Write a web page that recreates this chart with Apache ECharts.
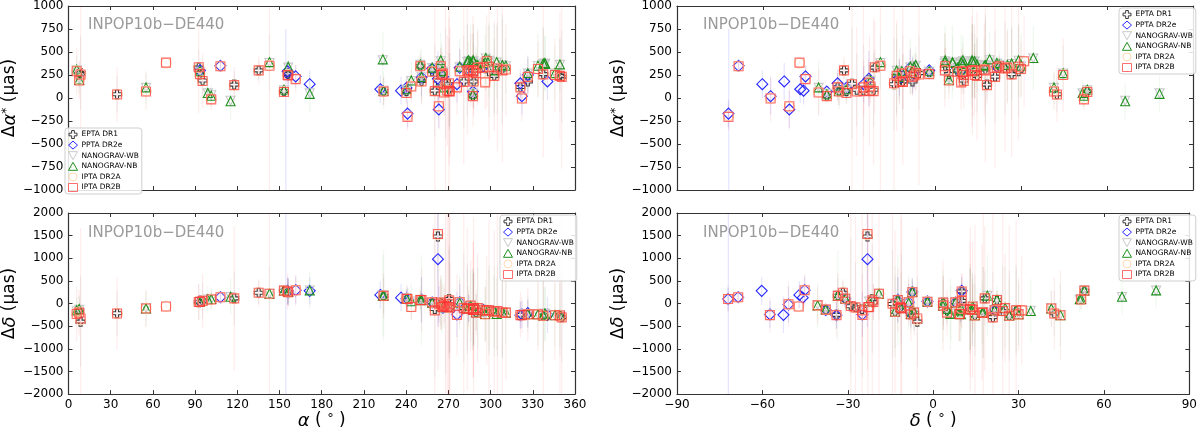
<!DOCTYPE html>
<html>
<head>
<meta charset="UTF-8">
<script src="https://cdn.jsdelivr.net/npm/echarts/dist/echarts.min.js"></script>
<style>
    html, body { margin: 0; padding: 0; background: #fff; }
    #container { width: 1200px; height: 431px; }
</style>
</head>
<body>
<div id="container"></div>
<script>
    const _ = null;
    // pulsar positions (deg)
    const psrName = ['J0023+0923','J0030+0451','J0034-0534','J0218+4232','J0340+4130','J0437-4715','J0610-2100','J0613-0200','J0621+1002','J0636+5128',
        'J0645+5158','J0711-6830','J0740+6620','J0751+1807','J0900-3144','J0931-1902','J1012+5307','J1017-7156','J1022+1001','J1024-0719',
        'J1045-4509','J1125-6014','J1125+7819','J1446-4701','J1453+1902','J1455-3330','J1545-4550','J1600-3053','J1603-7202','J1614-2230',
        'J1640+2224','J1643-1224','J1713+0747','J1721-2457','J1730-2304','J1732-5049','J1738+0333','J1741+1351','J1744-1134','J1747-4036',
        'J1751-2857','J1756-2251','J1801-1417','J1802-2124','J1804-2717','J1824-2452A','J1832-0836','J1843-1113','J1853+1303','J1857+0943',
        'J1903+0327','J1909-3744','J1910+1256','J1911+1347','J1911-1114','J1918-0642','J1923+2515','J1939+2134','J1944+0907','J1946+3417',
        'J1949+3106','J1955+2908','J2010-1323','J2017+0603','J2019+2425','J2033+1734','J2043+1711','J2124-3358','J2129-5721','J2145-0750',
        'J2214+3000','J2229+2643','J2234+0611','J2234+0944','J2241-5236','J2302+4442','J2317+1439','J2322+2057'];
    const psrRa = [5.82,7.61,8.59,34.53,55.10,69.32,92.56,93.43,95.30,99.02,
        101.46,107.98,115.19,117.79,135.19,142.84,153.14,154.46,155.74,156.16,
        161.46,171.43,171.45,221.65,223.43,223.95,236.36,240.22,240.96,243.65,
        250.07,250.91,258.46,260.35,262.59,263.20,264.59,265.38,266.12,266.95,
        267.98,269.19,270.43,270.54,271.08,276.13,278.05,280.92,283.47,284.40,
        285.80,287.45,287.54,287.82,287.95,289.70,290.79,294.91,296.17,296.60,
        297.29,298.88,302.62,304.34,304.86,308.35,310.84,321.18,322.26,326.46,
        333.67,337.44,338.60,338.70,340.40,345.70,349.29,350.57];
    const psrDec = [9.39,4.86,-5.58,42.54,41.51,-47.25,-21.01,-2.01,10.04,51.48,
        51.98,-68.51,66.34,18.13,-31.74,-19.05,53.12,-71.95,10.03,-7.32,
        -45.16,-60.24,78.32,-47.02,19.04,-33.51,-45.84,-30.90,-72.05,-22.51,
        22.40,-12.42,7.79,-24.95,-23.08,-50.82,3.55,13.86,-11.58,-40.61,
        -28.95,-22.87,-14.29,-21.41,-27.29,-24.87,-8.61,-11.23,13.06,9.72,
        3.45,-37.74,12.94,13.80,-11.24,-6.71,25.26,21.58,9.12,34.29,
        31.11,29.15,-13.39,6.06,24.42,17.58,17.19,-33.98,-57.35,-7.84,
        30.01,26.73,6.20,9.74,-52.60,44.71,14.66,20.96];

    // EPTA DR1
    const eptaDA = [_,260,270,40,_,_,330,280,190,_, _,_,_,145,300,_,75,_,265,260, _,_,_,_,_,75,_,75,_,_,
        350,185,290,80,190,_,350,_,270,_, 155,_,150,90,90,_,_,180,300,290, _,25,300,295,180,290,_,330,_,_,
        _,290,240,_,320,310,_,120,_,180, _,260,_,_,_,_,240,232];
    const eptaDD = [_,-150,-400,-215,_,_,30,40,60,_, _,_,_,115,240,_,285,_,270,250, _,_,_,_,_,170,_,110,_,_,
        80,80,30,-120,1480,_,20,_,-70,_, -60,_,-10,100,-90,_,_,-95,-110,-100, _,-130,-125,-135,-95,-200,_,-140,_,_,
        _,-150,-180,_,-165,-200,_,-250,_,-240, _,-270,_,_,_,_,-260,-300];
    const eptaErrA = [_,150,400,200,_,_,200,50,150,_, _,_,_,150,100,_,40,_,80,100, _,_,_,_,_,150,_,100,_,_,
        100,200,20,500,200,_,200,_,40,_, 600,_,500,400,400,_,_,500,500,150, _,20,400,300,300,200,_,60,_,_,
        _,500,400,_,500,600,_,150,_,150, _,500,_,_,_,_,400,500];
    const eptaErrD = [_,300,1000,500,_,_,400,100,400,_, _,_,_,600,250,_,80,_,300,250, _,_,_,_,_,400,_,200,_,_,
        200,500,40,1500,1000,_,500,_,100,_, 1500,_,1200,1200,1000,_,_,1200,1000,300, _,40,900,800,800,400,_,150,_,_,
        _,1000,800,_,1000,1000,_,300,_,300, _,1000,_,_,_,_,900,1000];

    // PPTA DR2e
    const pptaDA = [_,_,_,_,_,_,_,300,_,_, _,350,_,_,_,_,_,-1300,290,255, 235,150,_,95,_,_,80,110,-170,_,
        _,225,320,_,210,-125,_,_,230,_, _,_,_,_,_,150,330,_,_,320, _,70,_,_,_,_,_,340,_,_,
        _,_,_,_,_,_,_,160,20,250, _,_,_,_,180,_,_,_];
    const pptaDD = [_,_,_,_,_,_,_,45,_,_, _,140,_,_,_,_,_,-2500,280,255, 295,280,_,190,_,_,130,105,100,_,
        _,85,25,_,980,-20,_,_,-90,_, _,_,_,_,_,-240,30,_,_,-110, _,-140,_,_,_,_,_,-150,_,_,
        _,_,_,_,_,_,_,-260,-240,-210, _,_,_,_,-250,_,_,_];
    const pptaErrA = [_,_,_,_,_,_,_,60,_,_, _,60,_,_,_,_,_,2050,100,150, 120,150,_,150,_,_,150,100,150,_,
        _,200,20,_,300,200,_,_,50,_, _,_,_,_,_,200,200,_,_,150, _,20,_,_,_,_,_,60,_,_,
        _,_,_,_,_,_,_,150,200,200, _,_,_,_,200,_,_,_];
    const pptaErrD = [_,_,_,_,_,_,_,120,_,_, _,100,_,_,_,_,_,5000,300,300, 300,300,_,300,_,_,300,200,250,_,
        _,500,40,_,1500,400,_,_,100,_, _,_,_,_,_,500,400,_,_,300, _,40,_,_,_,_,_,150,_,_,
        _,_,_,_,_,_,_,300,300,300, _,_,_,_,400,_,_,_];

    // NANOGrav wideband
    const wbDA = [300,210,_,_,110,_,_,285,_,50, 30,_,-30,_,_,380,85,_,_,330, _,_,50,_,410,78,_,90,_,185,
        360,225,325,_,_,_,400,285,285,110, _,_,_,_,_,_,335,_,390,400, 380,45,400,395,_,350,350,375,385,430,
        _,405,295,385,_,355,345,_,_,265, 345,370,375,365,_,265,360,_];
    const wbDD = [-170,-140,_,_,-100,_,_,40,_,90, 95,_,145,_,_,215,285,_,_,255, _,_,285,_,170,175,_,110,_,45,
        82,75,22,_,_,_,18,-55,-80,-35, _,_,_,_,_,_,25,_,-115,-105, -55,-130,-125,-135,_,-195,-100,-145,-225,-160,
        _,-150,-175,-225,_,-195,-200,_,_,-230, -230,-265,-220,-230,_,-255,-255,_];

    // NANOGrav narrowband
    const nbDA = [310,200,_,_,115,_,_,290,_,55, 25,_,-35,_,_,390,90,_,_,340, _,_,45,_,420,80,_,95,_,190,
        365,230,330,_,_,_,410,290,290,115, _,_,_,_,_,_,340,_,400,410, 390,40,410,400,_,360,360,380,390,435,
        _,410,300,390,_,360,350,_,_,270, 350,375,380,370,_,270,365,_];
    const nbDD = [-150,-120,_,_,-110,_,_,40,_,95, 100,_,150,_,_,220,290,_,_,260, _,_,290,_,175,180,_,110,_,50,
        85,75,20,_,_,_,15,-60,-80,-40, _,_,_,_,_,_,20,_,-120,-105, -50,-130,-130,-140,_,-190,-95,-145,-230,-165,
        _,-155,-175,-230,_,-195,-200,_,_,-230, -235,-265,-220,-235,_,-255,-255,_];
    const nbErrA = [150,150,_,_,180,_,_,60,_,150, 120,_,200,_,_,300,40,_,_,150, _,_,200,_,300,200,_,150,_,200,
        150,300,20,_,_,_,300,300,50,300, _,_,_,_,_,_,300,_,400,200, 400,30,400,300,_,200,400,80,300,350,
        _,400,500,400,_,500,300,_,_,200, 350,400,300,300,_,300,300,_];
    const nbErrD = [300,300,_,_,400,_,_,150,_,300, 250,_,400,_,_,600,80,_,_,300, _,_,400,_,900,1000,_,300,_,400,
        300,1000,40,_,_,_,600,600,100,500, _,_,_,_,_,_,600,_,900,500, 800,60,900,800,_,400,900,200,600,700,
        _,900,1000,800,_,1000,700,_,_,400, 700,800,600,600,_,700,700,_];

    // IPTA DR2A
    const dr2aDA = [295,195,260,40,75,380,330,265,188,_, -10,345,_,142,300,355,70,_,255,250, 210,_,_,_,_,72,_,60,-195,130,
        348,182,288,78,170,-95,345,255,265,65, 150,82,155,80,75,120,295,178,300,288, 300,22,292,300,180,275,332,330,175,_,
        395,340,240,_,320,305,312,118,0,232, 318,258,_,_,_,252,240,230];
    const dr2aDD = [-210,-180,-360,-218,-105,-60,30,42,60,_, 92,138,_,115,238,215,285,_,265,252, 292,_,_,_,_,170,_,105,100,-70,
        80,76,25,-140,1520,-18,20,-65,-75,-40, -58,-80,-8,80,-88,-245,30,-98,-118,-108, -48,-132,-128,-138,-98,-198,-100,-148,-232,_,
        -150,-150,-180,_,-165,-200,-200,-255,-250,-238, -238,-270,_,_,_,-258,-262,-302];

    // IPTA DR2B
    const dr2bDA = [290,190,255,38,70,385,335,260,185,_, -15,345,_,140,300,350,65,_,250,245, 205,_,_,_,_,70,_,55,-205,125,
        345,180,285,75,165,-90,345,250,265,60, 150,80,160,75,70,115,290,175,300,285, 300,20,290,300,180,270,330,330,170,_,
        400,340,240,_,320,300,310,115,-5,230, 315,257,_,_,_,250,240,230];
    const dr2bDD = [-230,-200,-330,-220,-110,-65,35,40,60,_, 90,140,_,115,240,215,285,_,265,250, 295,_,_,_,_,170,_,105,100,-75,
        80,75,25,-150,1535,-15,20,-70,-75,-40, -55,-80,-5,70,-85,-250,30,-100,-120,-110, -45,-135,-130,-140,-100,-200,-100,-150,-235,_,
        -150,-150,-180,_,-165,-200,-200,-255,-255,-240, -240,-270,_,_,_,-260,-265,-305];
    const dr2bErrA = [250,200,1200,300,200,20,500,60,300,_, 120,40,_,200,150,1500,30,_,100,150, 150,_,_,_,_,150,_,120,150,180,
        120,250,20,1200,250,250,200,250,40,250, 1500,600,1500,800,700,300,250,900,700,150, 400,20,600,500,300,200,400,60,300,_,
        500,800,600,_,900,1000,500,150,250,200, 300,900,_,_,_,400,700,1000];
    const dr2bErrD = [600,500,2000,800,400,30,400,150,600,_, 200,80,_,1600,300,3000,60,_,400,300, 350,_,_,_,_,500,_,200,300,300,
        200,700,60,3000,3000,500,600,500,120,400, 3000,2500,3000,2500,2000,900,500,2500,1800,400, 1000,50,1500,1500,2000,500,1200,150,600,_,
        1200,2000,1800,_,2200,2400,1500,500,400,600, 800,2000,_,_,_,1000,2000,2500];

    const setNames = ['EPTA DR1', 'PPTA DR2e', 'NANOGRAV-WB', 'NANOGRAV-NB', 'IPTA DR2A', 'IPTA DR2B'];
    const setValues = {
        'EPTA DR1': [eptaDA, eptaDD, eptaErrA, eptaErrD],
        'PPTA DR2e': [pptaDA, pptaDD, pptaErrA, pptaErrD],
        'NANOGRAV-WB': [wbDA, wbDD, null, null],
        'NANOGRAV-NB': [nbDA, nbDD, nbErrA, nbErrD],
        'IPTA DR2A': [dr2aDA, dr2aDD, null, null],
        'IPTA DR2B': [dr2bDA, dr2bDD, dr2bErrA, dr2bErrD]
    };

    // marker looks
    const plusPath = 'path://M3,0L6,0L6,3L9,3L9,6L6,6L6,9L3,9L3,6L0,6L0,3L3,3Z';
    const downTri = 'path://M0,0L10,0L5,9Z';
    const markStyle = {
        'EPTA DR1': {symbol: plusPath, size: 9, color: '#3a3a3a', bar: 'rgba(0,0,0,0.05)'},
        'PPTA DR2e': {symbol: 'diamond', size: 11, color: '#2626ff', bar: 'rgba(0,0,255,0.1)'},
        'NANOGRAV-WB': {symbol: downTri, size: 9, color: '#c9c9c9', bar: 'rgba(0,0,0,0.04)'},
        'NANOGRAV-NB': {symbol: 'triangle', size: 9, color: '#1e901e', bar: 'rgba(0,128,0,0.06)'},
        'IPTA DR2A': {symbol: 'circle', size: 10, color: '#ffd9b0', bar: 'rgba(255,160,60,0.06)'},
        'IPTA DR2B': {symbol: 'rect', size: 9, color: 'rgba(255,50,50,0.7)', bar: 'rgba(255,0,0,0.07)'}
    };

    // 4 panels: [grid, use dec on x, use delta-dec on y]
    const panels = [
        {grid: 0, dec: false, dd: false},
        {grid: 1, dec: false, dd: true},
        {grid: 2, dec: true, dd: false},
        {grid: 3, dec: true, dd: true}
    ];

    function minus(v) {
        return String(v).replace('-', '\u2212');
    }

    function buildPoints(vals, errs, useDec) {
        let out = [];
        for (let i = 0; i < psrRa.length; i++) {
            if (vals[i] == null) continue;
            let e = (errs && errs[i] != null) ? errs[i] : 0;
            out.push([useDec ? psrDec[i] : psrRa[i], vals[i], e]);
        }
        return out;
    }

    function xAxisOf(p, pos) {
        let bottom = pos === 'bottom';
        let ax = {
            type: 'value', gridIndex: p.grid, position: pos,
            min: p.dec ? -90 : 0, max: p.dec ? 90 : 360, interval: 30,
            axisLine: {show: true, onZero: false, lineStyle: {color: '#333', width: 1.2}},
            axisTick: {show: true, inside: true, length: 4, lineStyle: {color: '#333'}},
            axisLabel: {show: bottom && p.dd, color: '#000', fontSize: 12, fontFamily: 'DejaVu Sans', margin: 5, formatter: minus},
            splitLine: {show: false}
        };
        if (bottom && p.dd) {
            ax.name = p.dec ? '{i|δ}{n| ( }{s|°}{n| )}' : '{i|α}{n| ( }{s|°}{n| )}';
            ax.nameLocation = 'middle';
            ax.nameGap = 13;
            ax.nameTextStyle = {
                verticalAlign: 'top',
                rich: {
                    i: {fontSize: 18, fontStyle: 'italic', fontFamily: 'DejaVu Sans', color: '#000'},
                    n: {fontSize: 17, fontFamily: 'DejaVu Sans', color: '#000'},
                    s: {fontSize: 13, fontFamily: 'DejaVu Sans', color: '#000', verticalAlign: 'top'}
                }
            };
        }
        return ax;
    }

    function yAxisOf(p, pos) {
        let left = pos === 'left';
        let ax = {
            type: 'value', gridIndex: p.grid, position: pos,
            min: p.dd ? -2000 : -1000, max: p.dd ? 2000 : 1000, interval: p.dd ? 500 : 250,
            axisLine: {show: true, onZero: false, lineStyle: {color: '#333', width: 1.2}},
            axisTick: {show: true, inside: true, length: 4, lineStyle: {color: '#333'}},
            axisLabel: {show: left, color: '#000', fontSize: 12, fontFamily: 'DejaVu Sans', margin: 5, formatter: minus},
            splitLine: {show: false}
        };
        if (left) {
            ax.name = p.dd ? '{n|Δ}{i|δ}{n| (μas)}' : '{n|Δ}{i|α}{s|*}{n| (μas)}';
            ax.nameLocation = 'middle';
            ax.nameGap = (p.grid === 0) ? 36 : 45;
            ax.nameTextStyle = {
                rich: {
                    i: {fontSize: 18, fontStyle: 'italic', fontFamily: 'DejaVu Sans', color: '#000'},
                    n: {fontSize: 17, fontFamily: 'DejaVu Sans', color: '#000'},
                    s: {fontSize: 12, fontFamily: 'DejaVu Sans', color: '#000', verticalAlign: 'top'}
                }
            };
        }
        return ax;
    }

    function errorSeries(p, name) {
        let st = markStyle[name];
        let v = setValues[name];
        let errs = p.dd ? v[3] : v[2];
        return {
            type: 'custom',
            xAxisIndex: p.grid, yAxisIndex: p.grid,
            clip: true, silent: true, z: 1,
            encode: {x: 0, y: 1},
            data: buildPoints(p.dd ? v[1] : v[0], errs, p.dec),
            renderItem: function (params, api) {
                let x = api.value(0), y = api.value(1), e = api.value(2);
                if (!e) return;
                let a = api.coord([x, y - e]);
                let b = api.coord([x, y + e]);
                return {
                    type: 'line',
                    shape: {x1: a[0], y1: a[1], x2: b[0], y2: b[1]},
                    style: {stroke: st.bar, lineWidth: 1.3}
                };
            }
        };
    }

    function markSeries(p, name) {
        let st = markStyle[name];
        let v = setValues[name];
        return {
            name: name,
            type: 'scatter',
            xAxisIndex: p.grid, yAxisIndex: p.grid,
            symbol: st.symbol,
            symbolSize: st.size,
            clip: true, silent: true, z: 3,
            itemStyle: {color: 'rgba(0,0,0,0)', borderColor: st.color, borderWidth: 1.1, opacity: 1},
            data: buildPoints(p.dd ? v[1] : v[0], null, p.dec).map(function (d) { return [d[0], d[1]]; })
        };
    }

    function legendAt(left, top) {
        return {
            left: left, top: top, orient: 'vertical',
            selectedMode: false,
            itemWidth: 9, itemHeight: 8, itemGap: 1.6,
            padding: [2, 3, 2, 3],
            borderColor: '#cfcfcf', borderWidth: 1, borderRadius: 3,
            backgroundColor: 'rgba(255,255,255,0.85)',
            textStyle: {fontSize: 7.5, fontFamily: 'DejaVu Sans', color: '#000', padding: [0, 0, 0, -1]},
            data: setNames.map(function (n) {
                return {
                    name: n,
                    icon: markStyle[n].symbol,
                    itemStyle: {color: 'rgba(0,0,0,0)', borderColor: markStyle[n].color, borderWidth: 1}
                };
            })
        };
    }

    function modelLabel(left, top) {
        return {
            type: 'text', left: left, top: top, z: 10,
            style: {text: 'INPOP10b\u2212DE440', fill: '#9a9a9a', fontSize: 15, fontFamily: 'DejaVu Sans'}
        };
    }

    function getCharts() {
        let dom = document.getElementById('container');
        let myChart = echarts.init(dom, null, {renderer: 'canvas'});
        let xAxes = [], yAxes = [], series = [];
        panels.forEach(function (p) { xAxes.push(xAxisOf(p, 'bottom')); yAxes.push(yAxisOf(p, 'left')); });
        panels.forEach(function (p) { xAxes.push(xAxisOf(p, 'top')); yAxes.push(yAxisOf(p, 'right')); });
        panels.forEach(function (p) {
            setNames.forEach(function (n) {
                if (setValues[n][2]) series.push(errorSeries(p, n));
            });
            setNames.forEach(function (n) {
                series.push(markSeries(p, n));
            });
        });
        let option = {
            animation: false,
            backgroundColor: '#fff',
            grid: [
                {left: 62, top: 5, width: 513, height: 185},
                {left: 62, top: 213, width: 513, height: 185},
                {left: 677, top: 5, width: 516, height: 185},
                {left: 677, top: 213, width: 516, height: 185}
            ],
            xAxis: xAxes,
            yAxis: yAxes,
            legend: [
                legendAt(65, 128),
                legendAt(500, 215),
                legendAt(1119, 8),
                legendAt(1119, 215)
            ],
            graphic: [
                modelLabel(88, 18),
                modelLabel(88, 226),
                modelLabel(703, 18),
                modelLabel(703, 226)
            ],
            series: series
        };
        myChart.setOption(option, true);
    }

    getCharts();
</script>
</body>
</html>
